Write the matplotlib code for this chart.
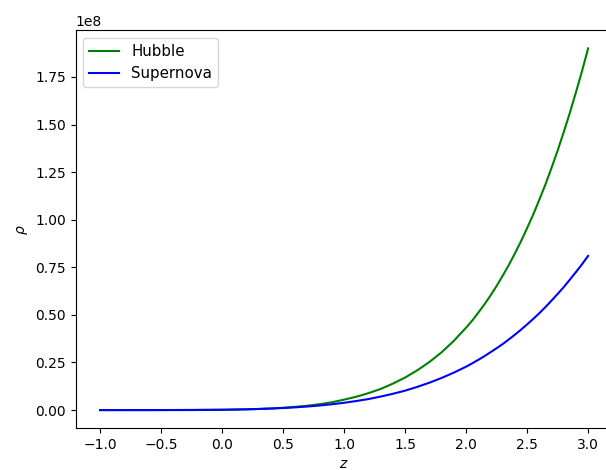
import matplotlib
matplotlib.use("Agg")
import matplotlib.pyplot as plt

# valores (rho en unidades de 1e8)
z = [-1.0, -0.75, -0.5, -0.25, 0.0, 0.1, 0.2, 0.3, 0.4, 0.5, 0.6, 0.7, 0.8, 0.9,
     1.0, 1.1, 1.2, 1.3, 1.4, 1.5, 1.6, 1.7, 1.8, 1.9, 2.0, 2.05, 2.1, 2.15, 2.2,
     2.25, 2.3, 2.35, 2.4, 2.45, 2.5, 2.55, 2.6, 2.65, 2.7, 2.75, 2.8, 2.85, 2.9,
     2.95, 3.0]
rhoHubble = [0.0, 0.00002, 0.0001, 0.0004, 0.0015, 0.0025, 0.0039, 0.0058, 0.0086,
             0.0122, 0.017, 0.023, 0.031, 0.041, 0.055, 0.070, 0.089, 0.111, 0.139,
             0.171, 0.209, 0.253, 0.304, 0.364, 0.433, 0.470, 0.512, 0.555, 0.602,
             0.652, 0.706, 0.762, 0.823, 0.887, 0.956, 1.027, 1.105, 1.185, 1.272,
             1.363, 1.460, 1.561, 1.669, 1.781, 1.900]
rhoSupernova = [0.0, 0.00002, 0.0002, 0.0006, 0.0018, 0.0028, 0.0040, 0.0058, 0.0080,
                0.0108, 0.0144, 0.0188, 0.0241, 0.0306, 0.0384, 0.0476, 0.058, 0.071,
                0.0856, 0.102, 0.122, 0.144, 0.169, 0.197, 0.228, 0.2456, 0.264, 0.283,
                0.304, 0.325, 0.347, 0.371, 0.396, 0.4225, 0.450, 0.479, 0.509, 0.541,
                0.575, 0.610, 0.646, 0.685, 0.725, 0.766, 0.810]

escala = 1e8

fig = plt.figure(figsize=(6.06, 4.70), dpi=100)
ax = fig.add_axes([0.1248, 0.089, 0.886, 0.8466])
ax.plot(z, [v * escala for v in rhoHubble], color='green', label='Hubble')
ax.plot(z, [v * escala for v in rhoSupernova], color='blue', label='Supernova')
ax.set_xlabel('$z$')
ax.set_ylabel(r'$\rho$')
ax.legend(loc='upper left', fontsize=10.8)
fig.savefig("out.png", dpi=100)
